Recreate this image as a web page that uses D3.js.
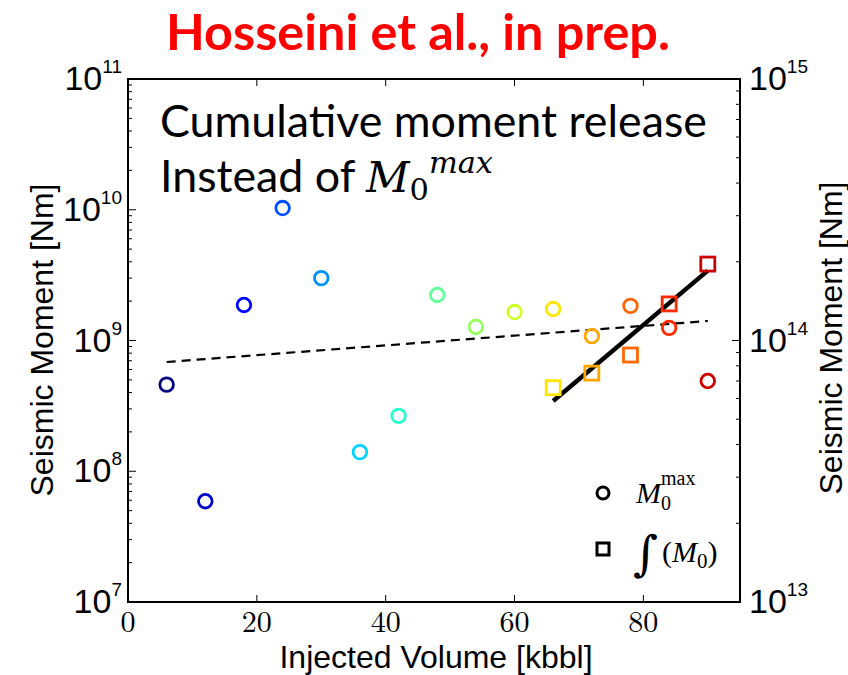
<!DOCTYPE html>
<html><head><meta charset="utf-8">
<script src="https://cdn.jsdelivr.net/npm/d3@7"></script>
<style>body{margin:0;background:#fff}svg{display:block}</style>
</head><body>
<svg id="c" width="848" height="675"></svg>
<script>
// ---- data ----
const volume = [6, 12, 18, 24, 30, 36, 42, 48, 54, 60, 66, 72, 78, 84, 90];
const m0max = [4.6e8, 5.9e7, 1.87e9, 1.03e10, 3.0e9, 1.4e8, 2.65e8, 2.23e9, 1.27e9, 1.65e9, 1.74e9, 1.08e9, 1.84e9, 1.25e9, 4.9e8];
const cumVolume = [66, 72, 78, 84, 90];
const cumM0 = [6.6e13, 7.5e13, 8.8e13, 1.38e14, 1.96e14];
const trendX = [6, 90];
const trendM0max = [6.85e8, 1.41e9];
const fitX = [66, 90];
const fitCum = [5.87e13, 1.85e14];
const xTicks = [0, 20, 40, 60, 80];
const leftExps = [7, 8, 9, 10, 11];
const rightExps = [13, 14, 15];

// jet colormap
function jet(t){
  const interp=(pts)=>{for(let i=0;i<pts.length-1;i++){const [a,va]=pts[i],[b,vb]=pts[i+1];if(t>=a&&t<=b)return va+(vb-va)*(t-a)/(b-a);}return pts[pts.length-1][1];};
  const r=interp([[0,0],[0.35,0],[0.66,1],[0.89,1],[1,0.5]]);
  const g=interp([[0,0],[0.125,0],[0.375,1],[0.64,1],[0.91,0],[1,0]]);
  const b=interp([[0,0.5],[0.11,1],[0.34,1],[0.65,0],[1,0]]);
  return d3.rgb(r*255,g*255,b*255).formatHex();
}
const nColors = 16;

const svg = d3.select("#c");
const L=128,R=740,T=79,B=602;
const x = d3.scaleLinear().domain([0,95]).range([L,R]);
const yL = d3.scaleLog().domain([1e7,1e11]).range([B,T]);
const yR = d3.scaleLog().domain([1e13,1e15]).range([B,T]);

function fit(sel,target){const w=sel.node().getComputedTextLength();const fs=parseFloat(sel.attr("font-size"));sel.attr("font-size",fs*target/w);}

// title
const title = svg.append("text").attr("x",418).attr("y",50).attr("text-anchor","middle")
  .attr("font-family","Lato, 'Open Sans', sans-serif").attr("font-weight","bold").attr("font-size",46)
  .attr("fill","#ff0000").text("Hosseini et al., in prep.");
fit(title,504);

// frame
svg.append("rect").attr("x",L).attr("y",T).attr("width",R-L).attr("height",B-T)
  .attr("fill","none").attr("stroke","#000").attr("stroke-width",2);

const tickG = svg.append("g").attr("stroke","#000").attr("stroke-width",1);
const isMajor=v=>Math.abs(Math.log10(v)-Math.round(Math.log10(v)))<1e-9;
yL.ticks().forEach(v=>{const len=isMajor(v)?8:4;
  tickG.append("line").attr("x1",L).attr("x2",L+len).attr("y1",yL(v)).attr("y2",yL(v));});
yR.ticks().forEach(v=>{const len=isMajor(v)?8:4;
  tickG.append("line").attr("x1",R).attr("x2",R-len).attr("y1",yR(v)).attr("y2",yR(v));});
xTicks.forEach(v=>{
  tickG.append("line").attr("x1",x(v)).attr("x2",x(v)).attr("y1",B).attr("y2",B-7);
  tickG.append("line").attr("x1",x(v)).attr("x2",x(v)).attr("y1",T).attr("y2",T+7);
});

const sans="'Liberation Sans', Arial, sans-serif";
leftExps.forEach(e=>{
  const t=svg.append("text").attr("x",122).attr("y",yL(Math.pow(10,e))+11).attr("text-anchor","end")
    .attr("font-family",sans).attr("font-size",34).attr("fill","#000");
  t.append("tspan").text("10");
  t.append("tspan").attr("font-size",19).attr("dy",-17).text(e);
});
rightExps.forEach(e=>{
  const t=svg.append("text").attr("x",749).attr("y",yR(Math.pow(10,e))+11).attr("text-anchor","start")
    .attr("font-family",sans).attr("font-size",34).attr("fill","#000");
  t.append("tspan").text("10");
  t.append("tspan").attr("font-size",19).attr("dy",-17).text(e);
});
xTicks.forEach(v=>{
  svg.append("text").attr("x",x(v)).attr("y",632).attr("text-anchor","middle")
    .attr("font-family","'Latin Modern Roman','Liberation Serif',serif").attr("font-size",30).text(v);
});
svg.append("text").attr("x",436).attr("y",668).attr("text-anchor","middle").attr("font-family",sans)
  .attr("font-size",32).text("Injected Volume [kbbl]");
svg.append("text").attr("transform","translate(53,340) rotate(-90)").attr("text-anchor","middle").attr("font-family",sans)
  .attr("font-size",32).text("Seismic Moment [Nm]");
svg.append("text").attr("transform","translate(842,338) rotate(-90)").attr("text-anchor","middle").attr("font-family",sans)
  .attr("font-size",32).text("Seismic Moment [Nm]");

// overlay text
const calib="Lato, 'Open Sans', sans-serif";
const l1=svg.append("text").attr("x",160).attr("y",137).attr("font-family",calib).attr("font-size",42).text("Cumulative moment release");
fit(l1,547);
const fs1=parseFloat(l1.attr("font-size"));
const l2=svg.append("text").attr("x",160).attr("y",192).attr("font-family",calib).attr("font-size",fs1);
l2.append("tspan").text("Instead of ");
l2.append("tspan").attr("font-family","'DejaVu Serif','Liberation Serif',serif").attr("font-style","italic").attr("font-size",fs1*0.95).text("M");
l2.append("tspan").attr("font-family","'DejaVu Serif','Liberation Serif',serif").attr("font-size",fs1*0.68).attr("dy",8).text("0");
l2.append("tspan").attr("font-family","'DejaVu Serif','Liberation Serif',serif").attr("font-style","italic").attr("font-size",fs1*0.68).attr("dy",-27).text("max");

// trend lines
const line=(xs,ys,sc)=>d3.line().x((d,i)=>x(xs[i])).y((d,i)=>sc(ys[i]))(xs);
svg.append("path").attr("d",line(trendX,trendM0max,yL)).attr("fill","none").attr("stroke","#000")
  .attr("stroke-width",2.2).attr("stroke-dasharray","9,6");
svg.append("path").attr("d",line(fitX,fitCum,yR)).attr("fill","none").attr("stroke","#000")
  .attr("stroke-width",4.5);

// markers
svg.append("g").selectAll("circle").data(volume).join("circle")
  .attr("cx",d=>x(d)).attr("cy",(d,i)=>yL(m0max[i])).attr("r",6.8)
  .attr("fill","none").attr("stroke",(d,i)=>jet(i/(nColors-1))).attr("stroke-width",2.8);
const off = volume.length - cumVolume.length;
svg.append("g").selectAll("rect").data(cumVolume).join("rect")
  .attr("x",d=>x(d)-7).attr("y",(d,i)=>yR(cumM0[i])-7).attr("width",14).attr("height",14)
  .attr("fill","none").attr("stroke",(d,i)=>jet((i+off)/(nColors-1))).attr("stroke-width",2.8);

// legend
svg.append("circle").attr("cx",603).attr("cy",493).attr("r",6).attr("fill","none").attr("stroke","#000").attr("stroke-width",3);
svg.append("rect").attr("x",597).attr("y",543).attr("width",12).attr("height",12).attr("fill","none").attr("stroke","#000").attr("stroke-width",3);
const serif="'Liberation Serif',serif";
const lg1=svg.append("text").attr("x",636).attr("y",503).attr("font-family",serif).attr("font-size",30);
lg1.append("tspan").attr("font-style","italic").text("M");
lg1.append("tspan").attr("font-size",20).attr("dy",7).text("0");
lg1.append("tspan").attr("font-size",20).attr("x",661).attr("dy",-25).text("max");
const lg2=svg.append("text").attr("x",633).attr("y",570).attr("font-family",serif).attr("font-size",30);
lg2.append("tspan").attr("font-family","'DejaVu Serif',serif").attr("font-size",48).text("∫");
lg2.append("tspan").attr("x",662).attr("dy",-8).text("(");
lg2.append("tspan").attr("font-style","italic").text("M");
lg2.append("tspan").attr("font-size",21).attr("dy",6).text("0");
lg2.append("tspan").attr("dy",-6).text(")");
</script>
</body></html>
